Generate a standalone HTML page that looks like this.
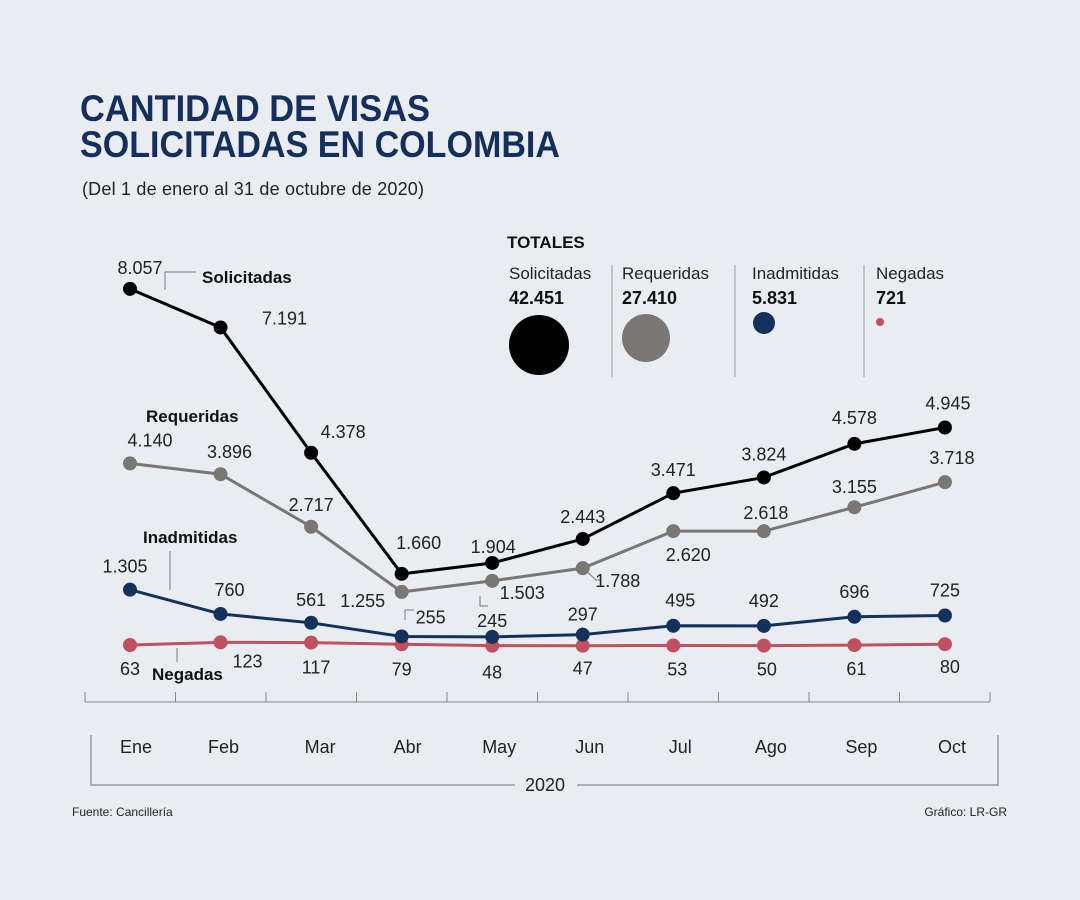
<!DOCTYPE html>
<html><head><meta charset="utf-8"><style>
body{margin:0;background:#e9edf2;}
svg{display:block;font-family:"Liberation Sans",sans-serif;}
</style></head><body>
<svg id="c" width="1080" height="900" viewBox="0 0 1080 900">
<rect width="1080" height="900" fill="#e9edf2"/>
<text x="80" y="121" font-size="37" font-weight="bold" fill="#152f5c" textLength="350" lengthAdjust="spacingAndGlyphs">CANTIDAD DE VISAS</text>
<text x="80" y="157" font-size="37" font-weight="bold" fill="#152f5c" textLength="480" lengthAdjust="spacingAndGlyphs">SOLICITADAS EN COLOMBIA</text>
<text x="82" y="195" font-size="18" fill="#222" textLength="342">(Del 1 de enero al 31 de octubre de 2020)</text>
<g>
<text x="507" y="248" font-size="17" font-weight="bold" fill="#111">TOTALES</text>
<text x="509" y="279" font-size="17" fill="#222">Solicitadas</text><text x="509" y="304" font-size="18" font-weight="bold" fill="#111">42.451</text>
<circle cx="539" cy="345" r="30" fill="#000"/>
<line x1="612" y1="265" x2="612" y2="377" stroke="#999"/>
<text x="622" y="279" font-size="17" fill="#222">Requeridas</text><text x="622" y="304" font-size="18" font-weight="bold" fill="#111">27.410</text>
<circle cx="646" cy="338" r="24" fill="#7a7674"/>
<line x1="735" y1="265" x2="735" y2="377" stroke="#999"/>
<text x="752" y="279" font-size="17" fill="#222">Inadmitidas</text><text x="752" y="304" font-size="18" font-weight="bold" fill="#111">5.831</text>
<circle cx="764" cy="323" r="11" fill="#14315e"/>
<line x1="864" y1="265" x2="864" y2="377" stroke="#999"/>
<text x="876" y="279" font-size="17" fill="#222">Negadas</text><text x="876" y="304" font-size="18" font-weight="bold" fill="#111">721</text>
<circle cx="880" cy="322" r="4" fill="#c0505f"/>
</g>
<g font-size="17" font-weight="bold" fill="#111">
<polyline points="165,290 165,272 196,272" fill="none" stroke="#777"/>
<text x="202" y="283">Solicitadas</text>
<text x="146" y="422">Requeridas</text>
<text x="143" y="543">Inadmitidas</text>
<line x1="170" y1="551" x2="170" y2="590" stroke="#777"/>
<line x1="177" y1="648" x2="177" y2="662" stroke="#777"/>
<text x="152" y="680">Negadas</text>
<polyline points="405,620 405,610 414,610" fill="none" stroke="#777"/>
<polyline points="480,596 480,606 488,606" fill="none" stroke="#777"/>
<polyline points="583,568 596,580 600,580" fill="none" stroke="#777"/>
</g>
<g id="axis"></g>
<g id="plot"></g>
<text x="72" y="816" font-size="12" fill="#222">Fuente: Cancillería</text>
<text x="1007" y="816" font-size="12" fill="#222" text-anchor="end">Gráfico: LR-GR</text>
</svg>
<script>
const months=["Ene","Feb","Mar","Abr","May","Jun","Jul","Ago","Sep","Oct"];
const solicitadas=[8057,7191,4378,1660,1904,2443,3471,3824,4578,4945];
const requeridas=[4140,3896,2717,1255,1503,1788,2620,2618,3155,3718];
const inadmitidas=[1305,760,561,255,245,297,495,492,696,725];
const negadas=[63,123,117,79,48,47,53,50,61,80];
const NS="http://www.w3.org/2000/svg";
const x=i=>130+i*90.55;
const y=v=>647.8-v*0.04455;
const fmt=v=>v>=1000?Math.floor(v/1000)+"."+String(v%1000).padStart(3,"0"):String(v);
function mk(tag,attrs,parent){const e=document.createElementNS(NS,tag);for(const k in attrs)e.setAttribute(k,attrs[k]);parent.appendChild(e);return e;}
const ax=document.getElementById("axis"),plot=document.getElementById("plot");
mk("line",{x1:85,y1:702,x2:990,y2:702,stroke:"#888"},ax);
for(let i=0;i<=10;i++){const t=mk("line",{x1:85+i*90.5,y1:692,x2:85+i*90.5,y2:702,stroke:"#888"},ax);

}
months.forEach((m,i)=>{const t=mk("text",{x:x(i)+(i==0?6:i==2?9:i==3?6:i>=4?7:3),y:753,"font-size":18,"text-anchor":"middle",fill:"#222"},ax);t.textContent=m;

});
mk("polyline",{points:"91,735 91,785 515,785",fill:"none",stroke:"#999","stroke-width":1.5},ax);
mk("polyline",{points:"577,785 998,785 998,735",fill:"none",stroke:"#999","stroke-width":1.5},ax);
const yr=mk("text",{x:545,y:791,"font-size":18,"text-anchor":"middle",fill:"#222"},ax);yr.textContent="2020";


const offS=[[10,-21],[64,-9],[32,-21],[17,-31],[1,-16],[0,-22],[0,-23],[0,-23],[0,-26],[3,-24]];
const offR=[[20,-23],[9,-22],[0,-22],[-39,9],[30,12],[35,13],[15,24],[2,-18],[0,-20],[7,-24]];
const offI=[[-5,-23],[9,-24],[0,-23],[29,-19],[0,-16],[0,-20],[7,-25],[0,-25],[0,-25],[0,-25]];
const offN=[[0,24],[27,19],[5,25],[0,25],[0,27],[0,23],[4,24],[3,24],[2,24],[5,23]];
const series=[["negadas",negadas,"#c0505f",offN],["inadmitidas",inadmitidas,"#14315e",offI],["requeridas",requeridas,"#7a7674",offR],["solicitadas",solicitadas,"#000",offS]];
series.forEach(([name,data,col,off])=>{
const g=mk("g",{},plot);


const pl=mk("polyline",{points:data.map((v,i)=>x(i)+","+y(v)).join(" "),fill:"none",stroke:col,"stroke-width":3},g);


data.forEach((v,i)=>{
const c=mk("circle",{cx:x(i),cy:y(v),r:7,fill:col},g);


const t=mk("text",{x:x(i)+off[i][0],y:y(v)+off[i][1]+6,"font-size":18,"text-anchor":"middle",fill:"#222"},g);
t.textContent=fmt(v);


});
});
</script>
</body></html>
